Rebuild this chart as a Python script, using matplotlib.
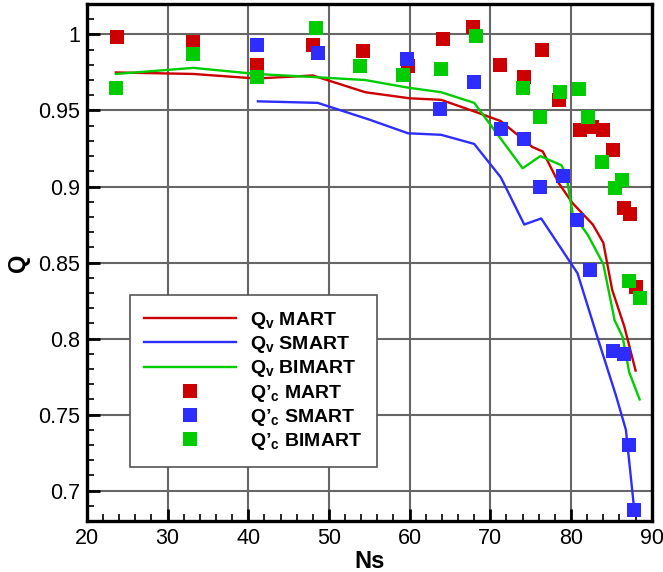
import numpy as np
import matplotlib.pyplot as plt
from matplotlib.ticker import MultipleLocator, FuncFormatter

plt.rcParams['font.family'] = ['Liberation Sans', 'DejaVu Sans']
plt.rcParams['mathtext.fontset'] = 'custom'
plt.rcParams['mathtext.bf'] = 'Liberation Sans:bold'
plt.rcParams['mathtext.rm'] = 'Liberation Sans:bold'
plt.rcParams['mathtext.default'] = 'bf'

# Qv curves
ns_mart = [23.6, 33.2, 41.0, 48.0, 54.5, 60.0, 63.9, 68.2, 71.3, 75.2, 76.5,
           78.5, 80.2, 82.7, 84.0, 85.1, 86.6, 88.0]
qv_mart = [0.975, 0.974, 0.971, 0.973, 0.962, 0.958, 0.957, 0.949, 0.943,
           0.926, 0.923, 0.902, 0.889, 0.875, 0.863, 0.832, 0.808, 0.779]

ns_smart = [41.2, 48.6, 55.0, 59.8, 63.9, 68.0, 71.3, 74.2, 76.3, 79.8, 80.8,
            83.5, 85.6, 86.8, 87.9]
qv_smart = [0.956, 0.955, 0.944, 0.935, 0.934, 0.928, 0.906, 0.875, 0.879,
            0.851, 0.843, 0.797, 0.762, 0.740, 0.684]

ns_bimart = [23.6, 33.2, 41.0, 48.0, 54.5, 59.8, 63.9, 68.0, 74.0, 76.2, 78.8,
             79.4, 80.2, 82.1, 84.0, 85.4, 86.4, 87.2, 88.5]
qv_bimart = [0.974, 0.978, 0.974, 0.972, 0.970, 0.965, 0.962, 0.955, 0.912,
             0.920, 0.914, 0.908, 0.882, 0.868, 0.849, 0.812, 0.801, 0.778, 0.760]

# Q'c points
nc_mart = [23.7, 33.2, 41.1, 48.0, 54.2, 59.8, 64.1, 67.9, 71.2, 74.2, 76.4,
           78.5, 81.1, 82.6, 83.9, 85.2, 86.6, 87.3, 88.0]
qc_mart = [0.998, 0.995, 0.980, 0.993, 0.989, 0.979, 0.997, 1.005, 0.980,
           0.972, 0.990, 0.957, 0.937, 0.939, 0.937, 0.924, 0.886, 0.882, 0.834]

nc_smart = [41.1, 48.6, 59.7, 63.8, 68.0, 71.3, 74.2, 76.2, 79.0, 80.8, 82.4,
            85.2, 86.6, 87.2, 87.8]
qc_smart = [0.993, 0.988, 0.984, 0.951, 0.969, 0.938, 0.931, 0.900, 0.907,
            0.878, 0.845, 0.792, 0.790, 0.730, 0.687]

nc_bimart = [23.6, 33.2, 41.1, 48.4, 53.9, 59.2, 63.9, 68.2, 74.1, 76.2, 78.6,
             81.0, 82.1, 83.8, 85.4, 86.3, 87.2, 88.5]
qc_bimart = [0.965, 0.987, 0.972, 1.004, 0.979, 0.973, 0.977, 0.999, 0.965,
             0.946, 0.962, 0.964, 0.946, 0.916, 0.899, 0.904, 0.838, 0.827]

red = '#cc0000'
blue = '#2d2dff'
green = '#00cc00'

fig = plt.figure(figsize=(6.63, 5.72), dpi=100)
ax = fig.add_axes([0.131, 0.089, 0.852, 0.904])

ax.plot(ns_mart, qv_mart, color=red, lw=1.7, label=r"$Q_v$ MART")
ax.plot(ns_smart, qv_smart, color=blue, lw=1.7, label=r"$Q_v$ SMART")
ax.plot(ns_bimart, qv_bimart, color=green, lw=1.7, label=r"$Q_v$ BIMART")
ax.plot(nc_mart, qc_mart, 's', color=red, ms=10, mew=0, label=r"Q’$_c$ MART")
ax.plot(nc_smart, qc_smart, 's', color=blue, ms=10, mew=0, label=r"Q’$_c$ SMART")
ax.plot(nc_bimart, qc_bimart, 's', color=green, ms=10, mew=0, label=r"Q’$_c$ BIMART")

ax.set_xlim(20, 90)
ax.set_ylim(0.68, 1.02)
ax.xaxis.set_major_locator(MultipleLocator(10))
ax.xaxis.set_minor_locator(MultipleLocator(2))
ax.yaxis.set_major_locator(MultipleLocator(0.05))
ax.yaxis.set_minor_locator(MultipleLocator(0.01))
ax.yaxis.set_major_formatter(FuncFormatter(lambda v, p: f"{v:g}"))
ax.grid(True, which='major', color='#666666', lw=1.5)
ax.set_axisbelow(True)
ax.tick_params(which='major', direction='in', length=9, width=2, labelsize=15.5, pad=5)
ax.tick_params(which='minor', direction='in', length=5, width=1.2)
for s in ax.spines.values():
    s.set_linewidth(2.4)

ax.set_xlabel("Ns", fontsize=17, fontweight='bold', labelpad=1)
ax.set_ylabel("Q", fontsize=17, fontweight='bold', labelpad=6)

leg = ax.legend(loc='upper left', bbox_to_anchor=(0.076, 0.437), borderaxespad=0,
                handlelength=4.7, handletextpad=0.75, numpoints=1,
                labelspacing=0.17, borderpad=0.75, fancybox=False, framealpha=1,
                edgecolor='#555555', prop={'weight': 'bold', 'size': 14})
leg.get_frame().set_linewidth(1.2)

fig.savefig("out.png", dpi=100)
